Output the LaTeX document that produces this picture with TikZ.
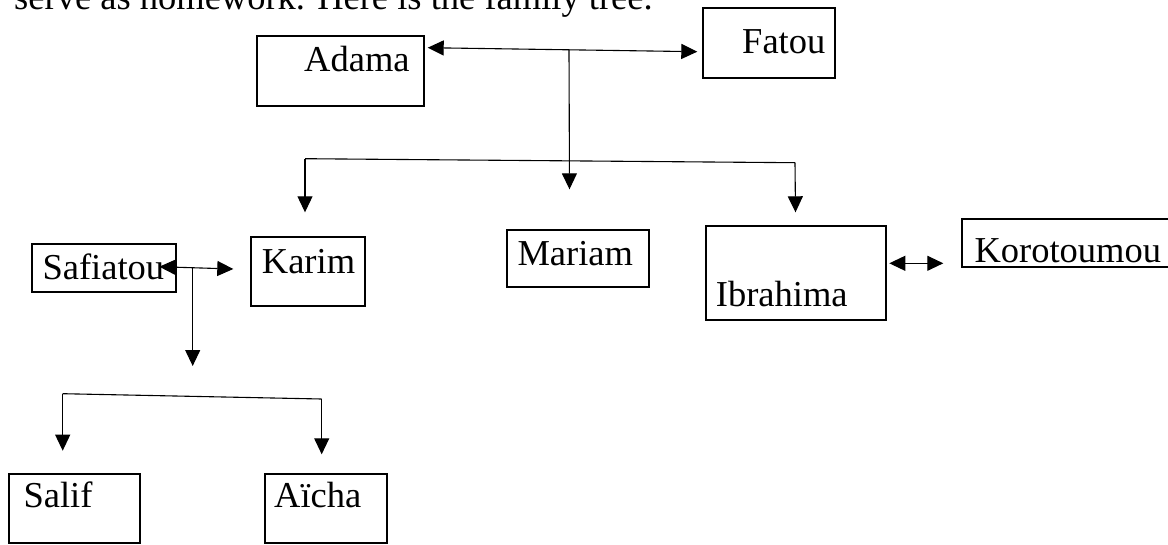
\documentclass[tikz,border=0pt]{standalone}
\usepackage{fontspec}
\setmainfont{Liberation Serif}
\usetikzlibrary{arrows.meta}
\begin{document}
\begin{tikzpicture}[x=1pt,y=-1pt,
  box/.style={draw,line width=2pt,inner sep=0pt,rectangle},
  lbl/.style={anchor=base west,inner sep=0pt,font=\fontsize{36.5}{44}\selectfont},
  conn/.style={line width=1.1pt},
  tipend/.style={-{Triangle[length=16pt,width=15pt]}},
  bothtip/.style={{Triangle[length=16pt,width=15pt]}-{Triangle[length=16pt,width=15pt]}}]
\useasboundingbox (0,0) rectangle (1168,544);
\clip (0,0) rectangle (1168,544);

% intro text (cut at top)
\node[lbl] (intro) at (14,9) {serve as homework. Here is the family tree.};

% boxes
\node[box,minimum width=167.6pt,minimum height=70.3pt] (adama) at (340.5,70.85) {};
\node[box,minimum width=132pt,minimum height=70pt] (fatou) at (769,43) {};
\node[box,minimum width=114.6pt,minimum height=69.3pt] (karim) at (308,271.35) {};
\node[box,minimum width=144.3pt,minimum height=48.6pt] (safiatou) at (103.85,268) {};
\node[box,minimum width=142pt,minimum height=57.3pt] (mariam) at (578.3,258.35) {};
\node[box,minimum width=180.6pt,minimum height=94.3pt] (ibrahima) at (796,272.85) {};
\node[box,minimum width=212pt,minimum height=48.5pt] (korotoumou) at (1067.5,243) {};
\node[box,minimum width=130.7pt,minimum height=69.6pt] (salif) at (74.65,508.5) {};
\node[box,minimum width=121.7pt,minimum height=69.6pt] (aicha) at (325.85,508.5) {};

% labels
\node[lbl] (adamat) at (304,71.7) {Adama};
\node[lbl] (fatout) at (742,53.3) {Fatou};
\node[lbl] (karimt) at (261.7,273.3) {Karim};
\node[lbl] (safiatout) at (42.3,279) {Safiatou};
\node[lbl] (mariamt) at (517.3,265) {Mariam};
\node[lbl] (ibrahimat) at (715.7,306.7) {Ibrahima};
\node[lbl] (korotoumout) at (974.3,262.3) {Korotoumou};
\node[lbl] (salift) at (23.3,507.7) {Salif};
\node[lbl] (aichat) at (274,507.7) {Aïcha};

% junction coordinates
\coordinate (af1) at (427.7,47.7);
\coordinate (af2) at (697.3,51.7);
\coordinate (afm) at (569,49.7);
\coordinate (afd) at (569.5,189.3);
\coordinate (hl) at (305,158.7);
\coordinate (hr) at (795,162.7);
\coordinate (kt) at (305,212.3);
\coordinate (it) at (795.5,212.3);
\coordinate (sk1) at (159.3,266.7);
\coordinate (sk2) at (233.3,269);
\coordinate (skm) at (192.7,267.6);
\coordinate (skd) at (192.7,366);
\coordinate (bl) at (62.7,393.7);
\coordinate (br) at (321.7,399);
\coordinate (st) at (62.7,450.7);
\coordinate (at) at (321.7,454.3);
\coordinate (ik1) at (889.3,263.3);
\coordinate (ik2) at (943.3,263.3);

% connectors
\draw[conn,bothtip] (af1) -- (af2);
\draw[conn,tipend] (afm) -- (afd);
\draw[conn] (hl) -- (hr);
\draw[conn,tipend] (hl) -- (kt);
\draw[conn,tipend] (hr) -- (it);
\draw[conn,bothtip] (sk1) -- (sk2);
\draw[conn,tipend] (skm) -- (skd);
\draw[conn] (bl) -- (br);
\draw[conn,tipend] (bl) -- (st);
\draw[conn,tipend] (br) -- (at);
\draw[conn,bothtip] (ik1) -- (ik2);
\end{tikzpicture}
\end{document}
